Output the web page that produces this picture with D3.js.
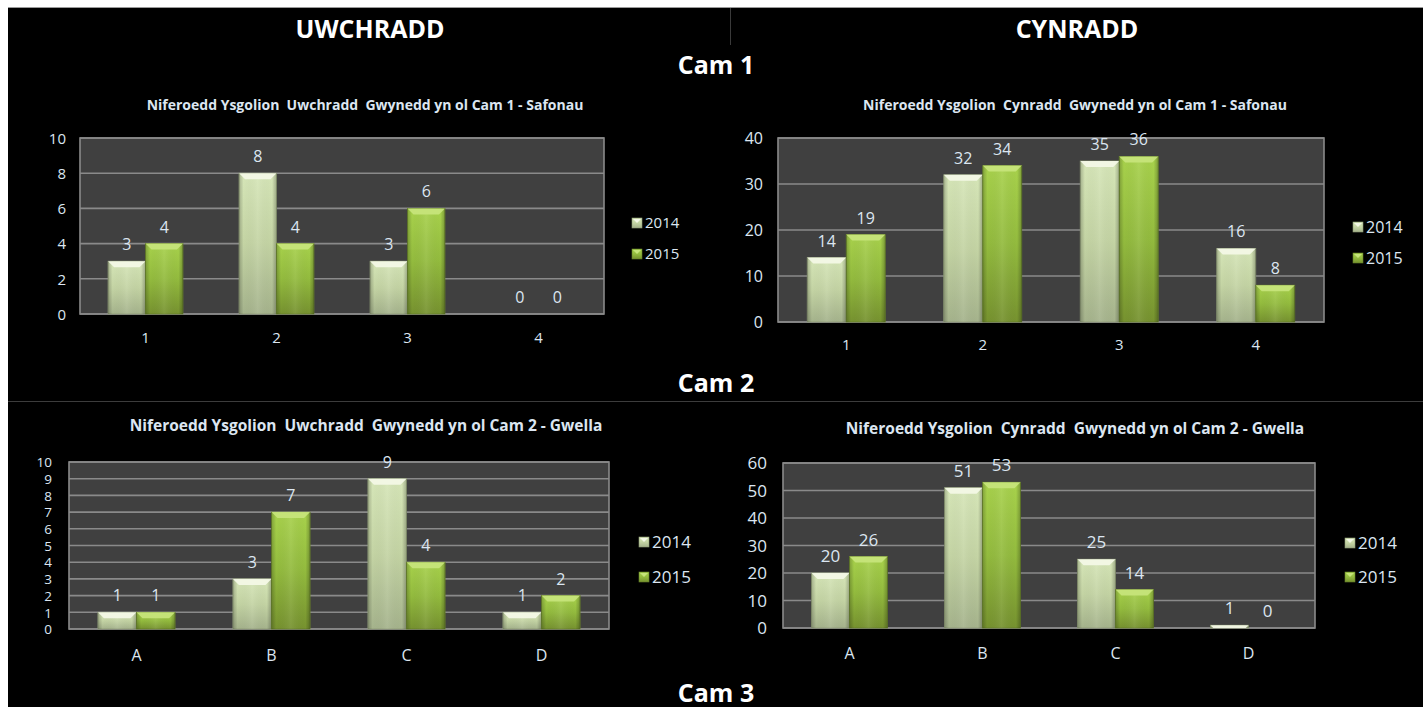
<!DOCTYPE html>
<html>
<head>
<meta charset="utf-8">
<script src="https://cdn.jsdelivr.net/npm/d3@7/dist/d3.min.js"></script>
<style>
  html, body { margin: 0; padding: 0; background: #ffffff; }
  svg { display: block; }
  text { font-family: "Open Sans", "DejaVu Sans", sans-serif; }
</style>
</head>
<body>
<svg id="chart" width="1426" height="707"></svg>
<script>
// ---------------- DATA ----------------
const seriesNames = ["2014", "2015"];
const categoriesCam1 = ["1", "2", "3", "4"];
const categoriesCam2 = ["A", "B", "C", "D"];

const uwchraddCam1_2014 = [3, 8, 3, 0];
const uwchraddCam1_2015 = [4, 4, 6, 0];
const cynraddCam1_2014 = [14, 32, 35, 16];
const cynraddCam1_2015 = [19, 34, 36, 8];
const uwchraddCam2_2014 = [1, 3, 9, 1];
const uwchraddCam2_2015 = [1, 7, 4, 2];
const cynraddCam2_2014 = [20, 51, 25, 1];
const cynraddCam2_2015 = [26, 53, 14, 0];

const ticksUwchCam1 = [0, 2, 4, 6, 8, 10];
const ticksCynCam1 = [0, 10, 20, 30, 40];
const ticksUwchCam2 = [0, 1, 2, 3, 4, 5, 6, 7, 8, 9, 10];
const ticksCynCam2 = [0, 10, 20, 30, 40, 50, 60];

const headerLeft = "UWCHRADD";
const headerRight = "CYNRADD";
const sectionLabels = ["Cam 1", "Cam 2", "Cam 3"];
const titleUwchCam1 = "Niferoedd Ysgolion  Uwchradd  Gwynedd yn ol Cam 1 - Safonau";
const titleCynCam1 = "Niferoedd Ysgolion  Cynradd  Gwynedd yn ol Cam 1 - Safonau";
const titleUwchCam2 = "Niferoedd Ysgolion  Uwchradd  Gwynedd yn ol Cam 2 - Gwella";
const titleCynCam2 = "Niferoedd Ysgolion  Cynradd  Gwynedd yn ol Cam 2 - Gwella";

// ---------------- LAYOUT ----------------
const svg = d3.select("#chart");
const TXT = "#dce6f1";

// page background
svg.append("rect").attr("x", 8).attr("y", 7).attr("width", 1415).attr("height", 700).attr("fill", "#000");
svg.append("line").attr("x1", 8).attr("x2", 1423).attr("y1", 7.5).attr("y2", 7.5).attr("stroke", "#9a9a9a").attr("stroke-width", 1);
svg.append("line").attr("x1", 730.5).attr("x2", 730.5).attr("y1", 8).attr("y2", 45).attr("stroke", "#3a3a3a");
svg.append("line").attr("x1", 8).attr("x2", 1423).attr("y1", 401.5).attr("y2", 401.5).attr("stroke", "#3c3c3c");

const hdr = (t, x, y) => svg.append("text").attr("x", x).attr("y", y).attr("text-anchor", "middle")
  .attr("fill", "#fff").attr("font-weight", "bold").attr("font-size", 25).text(t);
hdr(headerLeft, 370, 38);
hdr(headerRight, 1077, 38);
hdr(sectionLabels[0], 716, 74);
hdr(sectionLabels[1], 716, 392);
hdr(sectionLabels[2], 716, 702);

// gradients
const defs = svg.append("defs");
function vGrad(id, stops) {
  const g = defs.append("linearGradient").attr("id", id).attr("x1", 0).attr("y1", 0).attr("x2", 0).attr("y2", 1);
  stops.forEach(s => g.append("stop").attr("offset", s[0]).attr("stop-color", s[1]));
}
vGrad("g2014", [[0, "#d6e6b8"], [0.5, "#c4d4a4"], [1, "#a5b38c"]]);
vGrad("g2015", [[0, "#a8d24c"], [0.5, "#93bb3e"], [1, "#76922f"]]);
const hg = defs.append("linearGradient").attr("id", "hshade").attr("x1", 0).attr("y1", 0).attr("x2", 1).attr("y2", 0);
[[0, "rgba(0,0,0,0.22)"], [0.12, "rgba(0,0,0,0.0)"], [0.5, "rgba(255,255,255,0.08)"], [0.88, "rgba(0,0,0,0.0)"], [1, "rgba(0,0,0,0.25)"]]
  .forEach(s => hg.append("stop").attr("offset", s[0]).attr("stop-color", s[1]));
const seriesFill = { "2014": "url(#g2014)", "2015": "url(#g2015)" };
const seriesBevel = { "2014": "#f3f8e6", "2015": "#c6e47a" };
const seriesStroke = { "2014": "#8e9c76", "2015": "#66802a" };

function drawChart(cfg) {
  const g = svg.append("g");
  const x0 = d3.scaleBand().domain(cfg.categories).range([cfg.left, cfg.right]).paddingInner(0).paddingOuter(0);
  const step = x0.step();
  const groupW = step * 2 / 3.5;
  const x1 = d3.scaleBand().domain(seriesNames).range([(step - groupW) / 2, (step + groupW) / 2]);
  const y = d3.scaleLinear().domain([0, d3.max(cfg.ticks)]).range([cfg.bottom, cfg.top]);

  // title
  g.append("text").attr("x", cfg.titleX).attr("y", cfg.titleY).attr("text-anchor", "middle")
    .attr("fill", TXT).attr("font-weight", "bold").attr("font-size", cfg.titleSize)
    .style("white-space", "pre").attr("xml:space", "preserve").text(cfg.title);

  // plot area
  g.append("rect").attr("x", cfg.left).attr("y", cfg.top).attr("width", cfg.right - cfg.left)
    .attr("height", cfg.bottom - cfg.top).attr("fill", "#404040");
  g.selectAll(".grid").data(cfg.ticks).join("line")
    .attr("x1", cfg.left).attr("x2", cfg.right).attr("y1", d => y(d)).attr("y2", d => y(d))
    .attr("stroke", "#8a8a8a").attr("stroke-width", 1.6);
  g.append("rect").attr("x", cfg.left).attr("y", cfg.top).attr("width", cfg.right - cfg.left)
    .attr("height", cfg.bottom - cfg.top).attr("fill", "none").attr("stroke", "#8a8a8a").attr("stroke-width", 1.6);

  // y axis
  const ya = g.append("g").attr("transform", `translate(${cfg.yLabelX},0)`)
    .call(d3.axisLeft(y).tickValues(cfg.ticks).tickSize(0).tickPadding(0).tickFormat(d3.format("d")));
  ya.select(".domain").remove();
  ya.attr("font-size", null).attr("font-family", null);
  ya.selectAll("text").attr("fill", TXT).style("font-size", cfg.tickSize + "px").attr("dy", "0.35em");

  // x axis
  const xa = g.append("g").attr("transform", `translate(0,${cfg.xLabelY})`)
    .call(d3.axisBottom(x0).tickSize(0).tickPadding(0));
  xa.select(".domain").remove();
  xa.attr("font-size", null).attr("font-family", null);
  xa.selectAll("text").attr("fill", TXT).style("font-size", cfg.xSize + "px").attr("dy", "0.35em");

  // bars
  const rows = [];
  cfg.categories.forEach((c, i) => {
    seriesNames.forEach((s, j) => rows.push({ c, s, v: cfg.values[j][i] }));
  });
  const bars = g.selectAll(".bar").data(rows).join("g");
  bars.each(function (d) {
    const bx = x0(d.c) + x1(d.s);
    const bw = x1.bandwidth();
    const top = y(d.v);
    const h = cfg.bottom - top;
    const sel = d3.select(this);
    if (h > 0) {
      sel.append("rect").attr("x", bx).attr("y", top).attr("width", bw).attr("height", h)
        .attr("fill", seriesFill[d.s]).attr("stroke", seriesStroke[d.s]).attr("stroke-width", 0.8);
      sel.append("rect").attr("x", bx).attr("y", top).attr("width", bw).attr("height", h).attr("fill", "url(#hshade)");
      const b = Math.min(6, h);
      sel.append("path").attr("d", `M${bx},${top}L${bx + bw},${top}L${bx + bw - b},${top + b}L${bx + b},${top + b}Z`)
        .attr("fill", seriesBevel[d.s]).attr("opacity", 0.95);
    }
    sel.append("text").attr("x", bx + bw / 2).attr("y", top - 11).attr("text-anchor", "middle")
      .attr("fill", TXT).attr("font-size", cfg.labelSize).text(d.v);
  });

  // legend
  seriesNames.forEach((s, j) => {
    const ly = cfg.legendY[j];
    g.append("rect").attr("x", cfg.legendX).attr("y", ly - 5).attr("width", 10).attr("height", 10)
      .attr("fill", seriesFill[s]).attr("stroke", seriesStroke[s]).attr("stroke-width", 0.6);
    g.append("path").attr("d", `M${cfg.legendX + 1},${ly - 4}L${cfg.legendX + 9},${ly - 4}L${cfg.legendX + 5},${ly}Z`)
      .attr("fill", seriesBevel[s]);
    g.append("text").attr("x", cfg.legendX + 13).attr("y", ly).attr("dy", "0.35em")
      .attr("fill", TXT).attr("font-size", cfg.legendSize).text(s);
  });
}

drawChart({
  title: titleUwchCam1, titleX: 365, titleY: 110, titleSize: 14,
  categories: categoriesCam1, values: [uwchraddCam1_2014, uwchraddCam1_2015], ticks: ticksUwchCam1,
  left: 80, right: 604, top: 138, bottom: 314, yLabelX: 66, xLabelY: 338,
  tickSize: 15, xSize: 15, labelSize: 16,
  legendX: 632, legendY: [223, 254], legendSize: 15
});
drawChart({
  title: titleCynCam1, titleX: 1075, titleY: 110, titleSize: 14,
  categories: categoriesCam1, values: [cynraddCam1_2014, cynraddCam1_2015], ticks: ticksCynCam1,
  left: 778, right: 1324, top: 138, bottom: 322, yLabelX: 763, xLabelY: 345,
  tickSize: 16, xSize: 15, labelSize: 16,
  legendX: 1353, legendY: [227, 258], legendSize: 16
});
drawChart({
  title: titleUwchCam2, titleX: 366, titleY: 431, titleSize: 15.5,
  categories: categoriesCam2, values: [uwchraddCam2_2014, uwchraddCam2_2015], ticks: ticksUwchCam2,
  left: 69, right: 609, top: 462, bottom: 629, yLabelX: 52, xLabelY: 655,
  tickSize: 13.5, xSize: 16, labelSize: 16,
  legendX: 639, legendY: [542, 577], legendSize: 17
});
drawChart({
  title: titleCynCam2, titleX: 1075, titleY: 434, titleSize: 15.5,
  categories: categoriesCam2, values: [cynraddCam2_2014, cynraddCam2_2015], ticks: ticksCynCam2,
  left: 783, right: 1315, top: 463, bottom: 628, yLabelX: 767, xLabelY: 653,
  tickSize: 17, xSize: 16, labelSize: 17,
  legendX: 1345, legendY: [543, 577], legendSize: 17
});
</script>
</body>
</html>
